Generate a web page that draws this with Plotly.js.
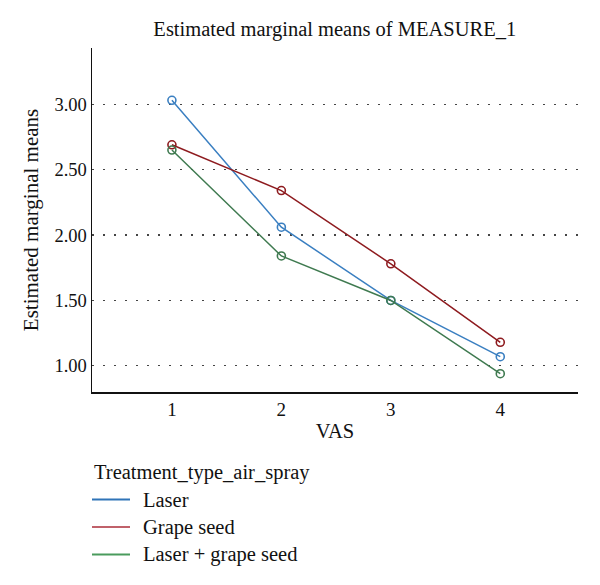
<!DOCTYPE html>
<html>
<head>
<meta charset="utf-8">
<script src="https://cdn.plot.ly/plotly-3.0.1.min.js"></script>
<style>html,body{margin:0;padding:0;background:#fff;}#chart{width:600px;height:585px;}</style>
</head>
<body>
<div id="chart"></div>
<script>
// VAS time points and estimated marginal means per treatment group
const vasLevels = [1, 2, 3, 4];
const seriesNames = ["Laser", "Grape seed", "Laser + grape seed"];
const legendTitle = "Treatment_type_air_spray";
const laserMeans = [3.03, 2.06, 1.50, 1.07];
const grapeSeedMeans = [2.69, 2.34, 1.78, 1.18];
const comboMeans = [2.65, 1.84, 1.50, 0.94];
const yTickValues = [1.0, 1.5, 2.0, 2.5, 3.0];
const yTickLabels = ["1.00", "1.50", "2.00", "2.50", "3.00"];

const colors = ["#3a7fc1", "#8e1b1f", "#3f7a50"];
const legendColors = ["#2f74b8", "#c0616a", "#4a9b5d"];
const allMeans = [laserMeans, grapeSeedMeans, comboMeans];
const serif = "Liberation Serif, Times New Roman, serif";

const traces = allMeans.map((vals, i) => ({
  x: vasLevels, y: vals, type: "scatter", mode: "lines+markers",
  name: seriesNames[i], showlegend: false,
  line: {color: colors[i], width: 1.5},
  marker: {symbol: "circle-open", size: 8, color: colors[i], line: {width: 1.6, color: colors[i]}}
}));

// legend drawn below the plot: a title, then a line sample and label per group
const legendTop = -80;   // px below the x axis line
const rowGap = 27.5;
const shapes = [];
const annotations = [{
  text: legendTitle, xref: "paper", yref: "paper", x: 0, y: 0,
  xanchor: "left", yanchor: "middle", xshift: 0, yshift: legendTop,
  showarrow: false, font: {family: serif, size: 20.5, color: "#111"}
}];
seriesNames.forEach((name, i) => {
  const dy = legendTop - rowGap * (i + 1);
  shapes.push({
    type: "line", xref: "paper", yref: "paper",
    xsizemode: "pixel", ysizemode: "pixel", xanchor: 0, yanchor: 0,
    x0: 0, x1: 38, y0: dy, y1: dy,
    line: {color: legendColors[i], width: 2}
  });
  annotations.push({
    text: name, xref: "paper", yref: "paper", x: 0, y: 0,
    xanchor: "left", yanchor: "middle", xshift: 49, yshift: dy,
    showarrow: false, font: {family: serif, size: 20.5, color: "#111"}
  });
});

const layout = {
  width: 600, height: 585,
  margin: {l: 92, r: 22, t: 48, b: 193},
  paper_bgcolor: "#fff", plot_bgcolor: "#fff",
  font: {family: serif, color: "#111", size: 19},
  showlegend: false,
  title: {text: "Estimated marginal means of MEASURE_1", x: 0.558, xanchor: "center", y: 0.950, yanchor: "middle", font: {family: serif, size: 20.5, color: "#111"}},
  xaxis: {
    range: [0.27, 4.71], tickvals: vasLevels, ticktext: vasLevels.map(String),
    showgrid: false, zeroline: false, showline: true, linecolor: "#111", linewidth: 1.5,
    ticks: "", ticklen: 0, tickfont: {family: serif, size: 19, color: "#111"},
    title: {text: "VAS", font: {family: serif, size: 20.5, color: "#111"}, standoff: 4}
  },
  yaxis: {
    range: [0.8, 3.43], tickvals: yTickValues, ticktext: yTickLabels,
    showgrid: true, gridcolor: "#444", gridwidth: 1.2, griddash: "1.5px,9.5px",
    zeroline: false, showline: true, linecolor: "#111", linewidth: 1.5,
    ticks: "", ticklen: 0, tickfont: {family: serif, size: 18.5, color: "#111"},
    title: {text: "Estimated marginal means", font: {family: serif, size: 21, color: "#111"}, standoff: 10}
  },
  shapes: shapes,
  annotations: annotations
};

Plotly.newPlot("chart", traces, layout, {displayModeBar: false, staticPlot: true});
</script>
</body>
</html>
